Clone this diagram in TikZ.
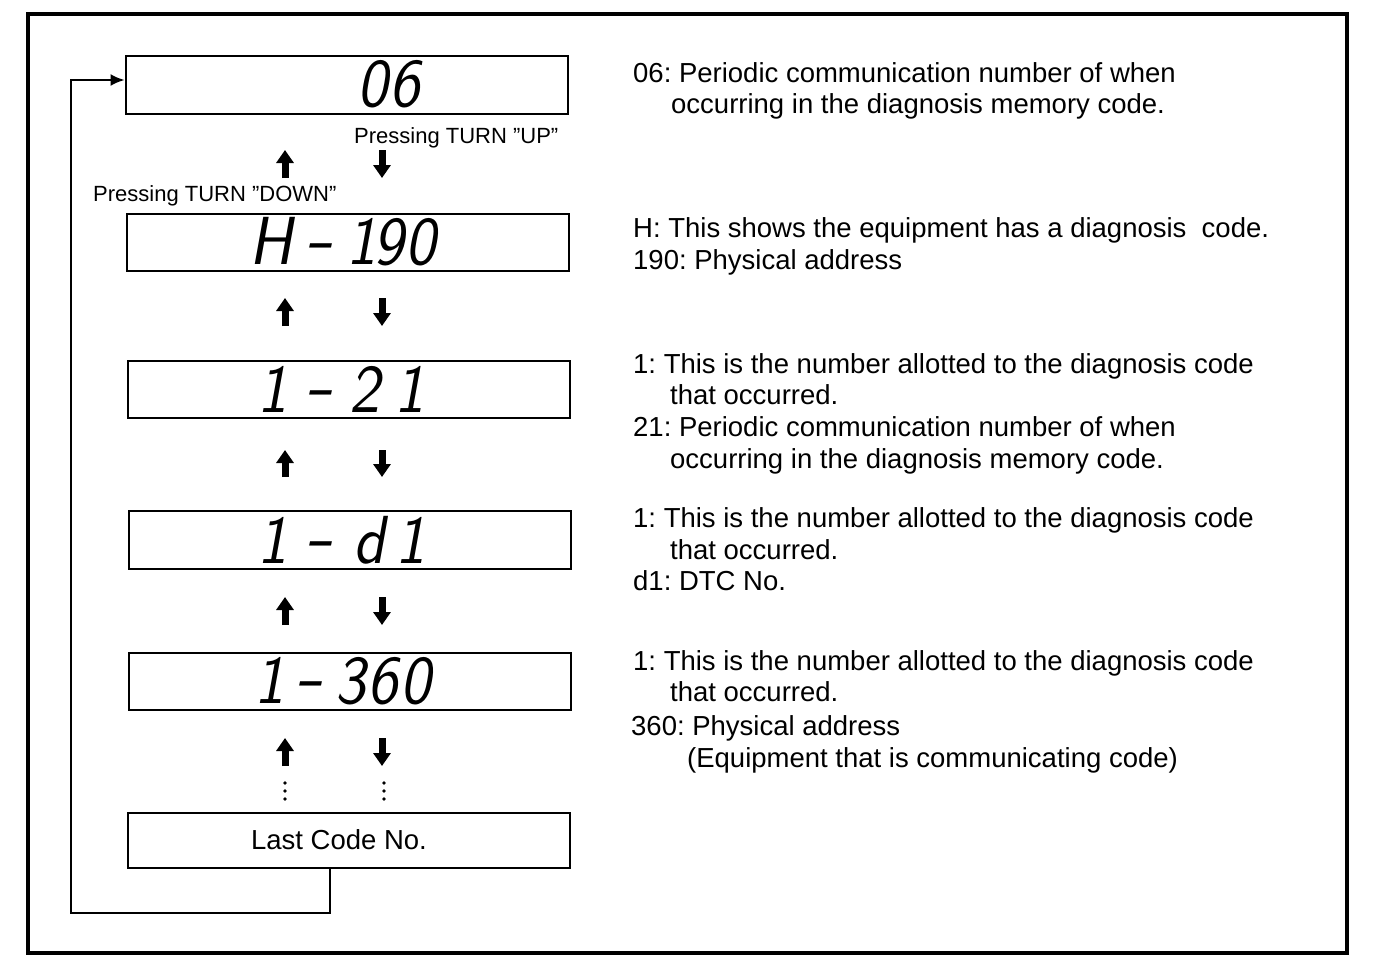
\documentclass[tikz,border=0pt]{standalone}
\usepackage{fontspec}
\setmainfont{Liberation Sans}
\newfontfamily\segfont[FakeSlant=0.18,FakeStretch=0.9]{lmsans10-regular.otf}
\usetikzlibrary{arrows.meta}
\frenchspacing
\newcommand{\segdash}{\raisebox{0.04em}{\scalebox{1.35}[1.1]{-}}}
\begin{document}
\begin{tikzpicture}[x=1pt,y=-1pt,
  frame/.style={line width=3.5pt},
  dispbox/.style={draw, line width=2pt, minimum width=442pt, minimum height=57pt, inner sep=0pt},
  seg/.style={inner sep=0pt, font=\segfont\fontsize{68}{68}\selectfont},
  desc/.style={anchor=base west, inner sep=0pt, font=\fontsize{27.5}{30}\selectfont},
  presslbl/.style={anchor=base west, inner sep=0pt, font=\fontsize{22}{24}\selectfont},
  lastlbl/.style={inner sep=0pt, font=\fontsize{27.5}{30}\selectfont},
  updown/.style={line width=7pt, -{Triangle[width=17pt,length=13pt]}},
  loopline/.style={line width=2pt, -{Latex[length=14pt,width=12pt]}},
  vdot/.style={circle, fill, inner sep=0pt, minimum size=3.6pt}
]
\useasboundingbox (0,0) rectangle (1376,970);
\draw[frame] (28,14) rectangle (1347,953);

% display boxes
\node[dispbox, minimum height=58pt] (b1) at (346.5,84.5) {};
\node[dispbox] (b2) at (348,242) {};
\node[dispbox] (b3) at (349,389) {};
\node[dispbox, minimum height=58pt] (b4) at (350,540) {};
\node[dispbox] (b5) at (350,681.5) {};
\node[dispbox, minimum height=55pt] (b6) at (349,840.5) {};

% segment texts
\node[seg] (s1) at (389,84) {0\kern2pt 6};
\node[seg] (s2) at (343,242) {H\kern12pt\segdash\kern14pt 1\kern-4pt 9\kern2pt 0};
\node[seg] (s3) at (341,389) {1\kern18pt\segdash\kern16pt 2\kern14pt 1};
\node[seg] (s4) at (341.5,540) {1\kern18pt\segdash\kern20pt d\kern10pt 1};
\node[seg] (s5) at (342.5,681) {1\kern11pt\segdash\kern12pt 3\kern2pt 6\kern2pt 0};
\node[lastlbl] (s6) at (339,840) {Last Code No.};

% pressing labels
\node[presslbl] (pu) at (354,143) {Pressing TURN "UP"};
\node[presslbl] (pd) at (93,201) {Pressing TURN "DOWN"};

% up / down arrows
\foreach \ya/\yb [count=\i] in {150/178, 298/326, 450/477, 597/625, 738/766}{
  \coordinate (ut\i) at (285,\ya);
  \coordinate (ub\i) at (285,\yb);
  \coordinate (dt\i) at (382,\ya);
  \coordinate (db\i) at (382,\yb);
  \draw[updown] (ub\i) -- (ut\i);
  \draw[updown] (dt\i) -- (db\i);
}

% continuation dots
\foreach \yy [count=\j] in {783,791,799}{
  \node[vdot] (ldot\j) at (285,\yy) {};
  \node[vdot] (rdot\j) at (384,\yy) {};
}

% return loop
\coordinate (lb) at (330,913);
\coordinate (lx) at (71,913);
\coordinate (lt) at (71,80);
\draw[loopline] (b6.south -| lb) -- (lb) -- (lx) -- (lt) -- (b1.west |- lt);

% descriptions
\node[desc] (t11) at (633,82) {06: Periodic communication number of when};
\node[desc] (t12) at (671,113) {occurring in the diagnosis memory code.};

\node[desc] (t21) at (633,237) {H: This shows the equipment has a diagnosis\ \ code.};
\node[desc] (t22) at (633,269) {190: Physical address};

\node[desc] (t31) at (633,373) {1: This is the number allotted to the diagnosis code};
\node[desc] (t32) at (670,404) {that occurred.};
\node[desc] (t33) at (633,436) {21: Periodic communication number of when};
\node[desc] (t34) at (670,468) {occurring in the diagnosis memory code.};

\node[desc] (t41) at (633,527) {1: This is the number allotted to the diagnosis code};
\node[desc] (t42) at (670,559) {that occurred.};
\node[desc] (t43) at (633,590) {d1: DTC No.};

\node[desc] (t51) at (633,670) {1: This is the number allotted to the diagnosis code};
\node[desc] (t52) at (670,701) {that occurred.};
\node[desc] (t53) at (631,735) {360: Physical address};
\node[desc] (t54) at (687,767) {(Equipment that is communicating code)};
\end{tikzpicture}
\end{document}
